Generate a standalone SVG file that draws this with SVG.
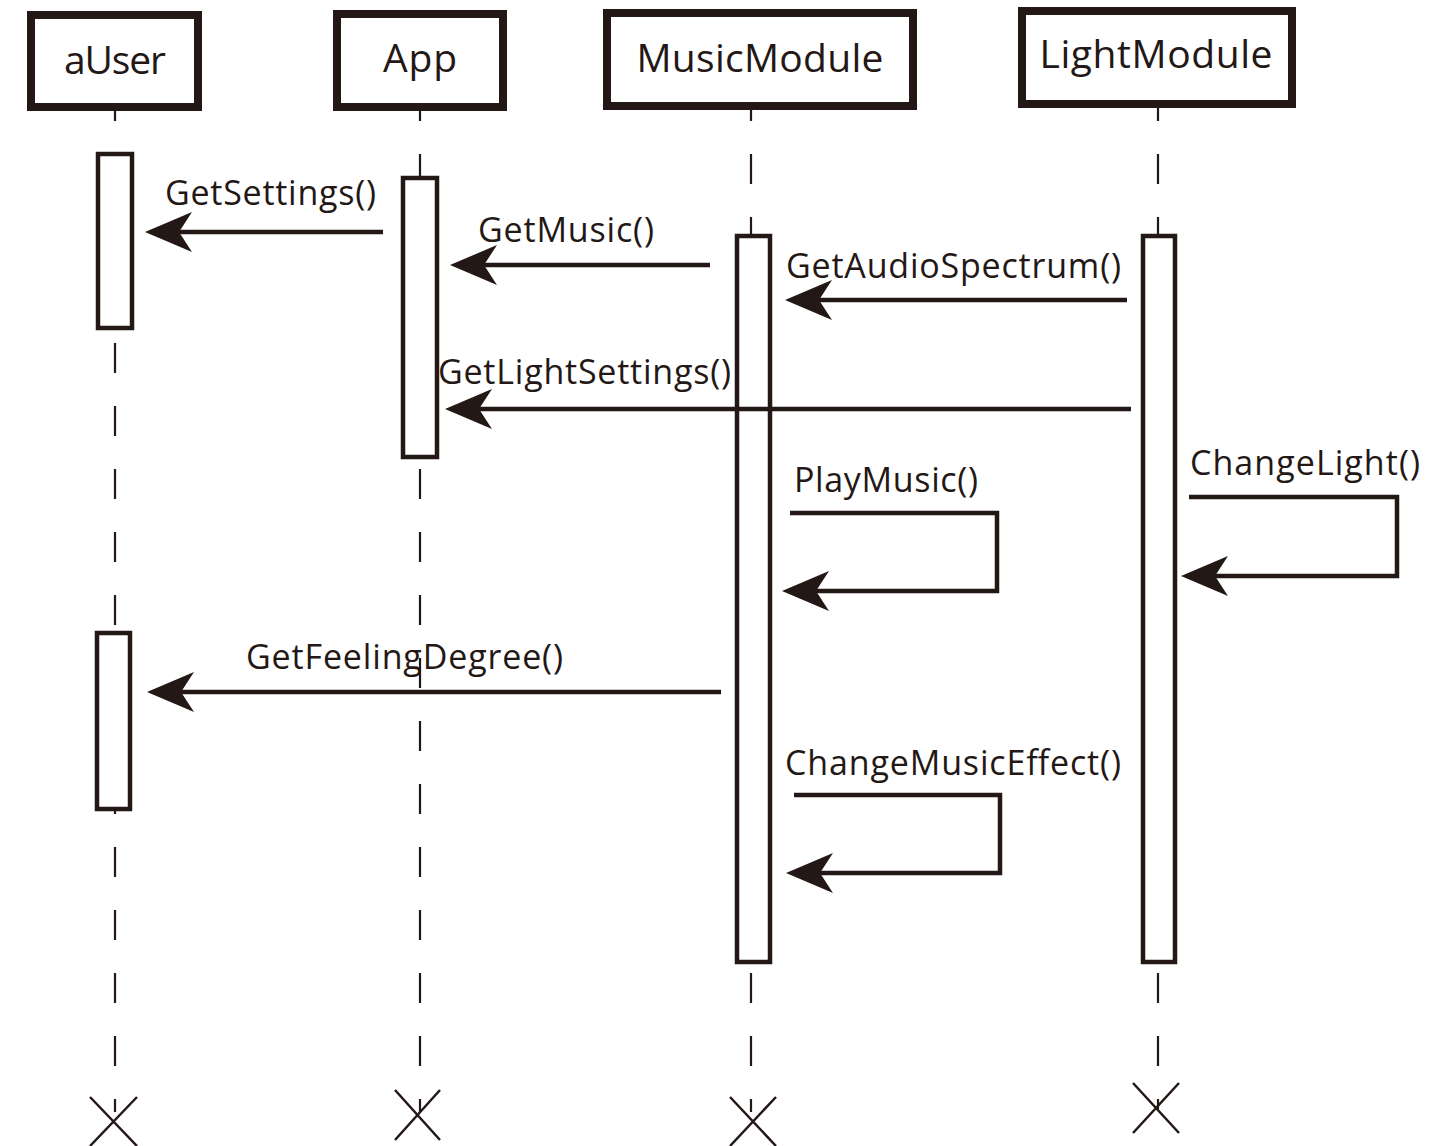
<svg xmlns="http://www.w3.org/2000/svg" width="1445" height="1146" viewBox="0 0 1445 1146">
<style>
.hdr{fill:#fff;stroke:#231815;stroke-width:8}
.ht{font-family:"Open Sans","Noto Sans",sans-serif;font-size:39px;fill:#231815;text-anchor:middle}
.life{stroke:#231815;stroke-width:2.2;stroke-dasharray:30 33;fill:none}
.act{fill:#fff;stroke:#231815;stroke-width:4.5}
.msg{stroke:#231815;stroke-width:4.5;fill:none;marker-end:url(#ah)}
.lt{font-family:"Open Sans","Noto Sans",sans-serif;font-size:34px;fill:#231815}
.x{stroke:#231815;stroke-width:2.5;fill:none}
</style>
<defs>
<marker id="ah" markerUnits="userSpaceOnUse" orient="auto" viewBox="-55 -25 60 50" markerWidth="60" markerHeight="50" refX="-33" refY="0">
<path d="M0,0 L-47,-20 L-34,0 L-47,20 Z" fill="#231815"/>
</marker>
</defs>
<g id="lifelines">
<line class="life" x1="115" y1="91" x2="115" y2="1112"/>
<line class="life" x1="420" y1="91" x2="420" y2="1112"/>
<line class="life" x1="751" y1="91" x2="751" y2="1112"/>
<line class="life" x1="1158" y1="91" x2="1158" y2="1109"/>
</g>
<g id="aUser">
<rect class="hdr" x="31" y="15" width="167" height="92"/>
<text class="ht" x="115" y="74" textLength="102">aUser</text>
<rect class="act" x="98" y="154" width="34" height="174"/>
<rect class="act" x="97" y="633" width="33" height="176"/>
<path class="x" d="M90,1097 L137,1146 M137,1097 L90,1146"/>
</g>
<g id="App">
<rect class="hdr" x="337" y="14" width="166" height="93"/>
<text class="ht" x="420" y="72" textLength="74">App</text>
<rect class="act" x="403" y="178" width="34" height="279"/>
<path class="x" d="M395,1090 L440,1140 M440,1090 L395,1140"/>
</g>
<g id="MusicModule">
<rect class="hdr" x="607" y="13" width="306" height="93"/>
<text class="ht" x="760" y="72" textLength="247">MusicModule</text>
<rect class="act" x="737" y="236" width="33" height="726"/>
<path class="x" d="M730,1097 L776,1146 M776,1097 L730,1146"/>
</g>
<g id="LightModule">
<rect class="hdr" x="1022" y="11" width="270" height="93"/>
<text class="ht" x="1156" y="68" textLength="233">LightModule</text>
<rect class="act" x="1143" y="236" width="32" height="726"/>
<path class="x" d="M1133,1083 L1179,1133 M1179,1083 L1133,1133"/>
</g>
<g id="connectors">
<path class="msg" d="M383,232 L178,232"/>
<path class="msg" d="M710,265 L483,265"/>
<path class="msg" d="M1127,300 L818,300"/>
<path class="msg" d="M1131,409 L478,409"/>
<path class="msg" d="M790,513 L997,513 L997,591 L815,591"/>
<path class="msg" d="M1189,497 L1397,497 L1397,576 L1214,576"/>
<path class="msg" d="M721,692 L180,692"/>
<path class="msg" d="M794,795 L1000,795 L1000,873 L819,873"/>
</g>
<g id="labels">
<text class="lt" x="165" y="205" textLength="211">GetSettings()</text>
<text class="lt" x="478" y="242" textLength="176">GetMusic()</text>
<text class="lt" x="786" y="278" textLength="335">GetAudioSpectrum()</text>
<text class="lt" x="438" y="384" textLength="293">GetLightSettings()</text>
<text class="lt" x="794" y="492" textLength="184">PlayMusic()</text>
<text class="lt" x="1190" y="475" textLength="230">ChangeLight()</text>
<text class="lt" x="246" y="669" textLength="317">GetFeelingDegree()</text>
<text class="lt" x="785" y="775" textLength="336">ChangeMusicEffect()</text>
</g>
</svg>
